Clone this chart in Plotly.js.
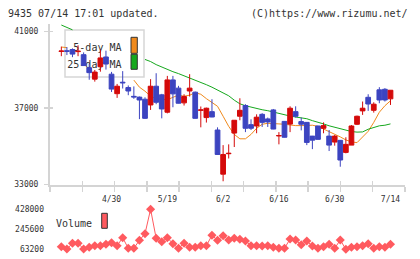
<!DOCTYPE html>
<html>
<head>
<meta charset="utf-8">
<script src="https://cdn.plot.ly/plotly-3.0.1.min.js"></script>
<style>
  html, body { margin: 0; padding: 0; background: #fff; }
  #chart { width: 420px; height: 259px; }
</style>
</head>
<body>
<div id="chart"></div>
<script>
// Daily OHLC for 9435, oldest first (60 trading days)
const openPx  = [39960,39990,40060,39950,39790,39110,38510,39160,39670,38770,
                 37750,38350,38070,37610,37570,37460,37160,38140,37690,36780,
                 38470,38040,37270,37890,37830,36880,36500,36810,35850,33540,
                 34610,35690,36570,37130,36130,36060,36670,36430,36900,35540,
                 36300,36160,36810,36290,36250,35530,36060,35940,35530,35220,
                 35310,34680,35060,36150,36850,37560,36880,37950,37980,37480];
const highPx  = [40210,40190,40120,40280,39910,39310,38990,40060,40000,38890,
                 38260,38930,38180,38130,37600,37560,38510,38820,37740,38680,
                 38680,38160,37720,38770,37860,37080,37020,37460,35990,35060,
                 35100,36360,37510,37200,36410,36670,36730,36500,36950,35740,
                 36310,37090,37090,36500,36260,35540,36070,36250,35850,35590,
                 35320,35470,36110,36600,37340,37720,37300,38090,38040,37930];
const lowPx   = [39710,39770,39660,39710,39200,38480,38380,38900,39010,37840,
                 37530,38020,37670,37480,36420,36430,36900,37200,36460,36720,
                 37040,37240,37130,37600,36450,35990,36240,36520,34560,33170,
                 34360,34960,36360,35740,35850,35680,36010,36010,35890,35100,
                 35460,35740,36500,35830,35060,34850,35350,35680,34750,35030,
                 33930,34630,35060,36110,36640,36850,36760,37250,37340,37160];
const closePx = [39980,39970,39820,39970,39220,38850,38880,39620,39300,37990,
                 38140,38320,37890,37580,37420,36460,38140,37300,36950,38470,
                 37740,37250,37600,38040,36460,36900,36990,36530,34570,34570,
                 34630,36360,36880,35940,35940,36520,36250,36270,35900,35560,
                 35470,36990,36570,36150,35200,35320,35360,36080,35060,35530,
                 34280,35100,36060,36570,36990,37210,37200,37420,37420,37930];

// Moving averages (null where the legend panel covers the line)
const ma5  = [40190,40160,null,null,null,null,null,null,null,null,
              null,null,null,38460,38090,37880,37620,37490,37460,37430,
              37560,37670,37620,37670,37800,37720,37490,37300,37090,36570,
              36040,35620,35390,35390,35620,35940,36150,36200,36200,36170,
              36150,36100,36080,36080,36100,36100,36040,35910,35750,35620,
              35490,35330,35230,35190,35470,35780,36250,36780,37120,37380];
const ma25 = [41340,41210,41090,null,null,null,null,null,null,null,
              null,null,null,null,null,39540,39430,39270,39140,39010,
              38900,38800,38690,38560,38460,38340,38220,38090,37930,37800,
              37640,37410,37220,37120,37040,36950,36910,36860,36780,36700,
              36650,36580,36530,36480,36440,36340,36270,36170,36070,35990,
              35910,35810,35770,35740,35750,35890,35990,36070,36100,36170];

// Daily volume
const volume = [86900,65900,117900,117900,65900,81400,96000,96000,108800,123400,
                96000,169000,72300,72300,145300,205500,428000,163500,132500,169000,
                114300,72300,117900,81400,81400,96000,96000,190900,145300,187200,
                148000,163500,154400,138900,96000,96000,93300,96000,81400,72300,
                72300,157100,148000,105200,138900,93300,72300,86900,108800,72300,
                148000,63200,81400,86900,96000,114300,72300,86900,81400,108800];

// Axis labels
const priceTicks = [33000, 37000, 41000];
const volTicks = [63200, 245600, 428000];
const dateLabels = ['4/30', '5/19', '6/2', '6/16', '6/30', '7/14'];
const dateLabelIdx = [9, 19, 29, 39, 49, 59];

const headerLeft = '9435 07/14 17:01 updated.';
const headerRight = '(C)https://www.rizumu.net/';

const idx = closePx.map((_, i) => i);

// page geometry helpers (pixels -> paper fractions)
const W = 420, H = 259;
const fx = p => p / W;
const fy = p => 1 - p / H;

const MONO = 'DejaVu Sans Mono, monospace';
const TXT = '#333333';
const AXIS = '#d4d4d4';
const RED = '#d40a0a';
const BLUE = '#3c44c0';
const ORANGE = '#f08a1c';
const GREEN = '#16a81e';
const VOLC = '#ff5a5f';

const xRange = [-2.03, 61.6];
const tickPos = [];
for (let k = 0; k <= 11; k++) tickPos.push(xRange[0] + k * (xRange[1] - xRange[0]) / 11);

const xDom = [fx(50), fx(405)];
const priceRange = [33000, 41400];
const priceDom = [fy(184.5), fy(184.5 - 8.4 * 19.12)];
const volDom = [fy(249.3), fy(209.3)];

const traces = [
  { type: 'scatter', mode: 'lines', x: idx, y: ma5, xaxis: 'x', yaxis: 'y',
    line: { color: ORANGE, width: 1 }, connectgaps: false, hoverinfo: 'skip' },
  { type: 'scatter', mode: 'lines', x: idx, y: ma25, xaxis: 'x', yaxis: 'y',
    line: { color: GREEN, width: 1 }, connectgaps: false, hoverinfo: 'skip' },
  { type: 'candlestick', x: idx, open: openPx, high: highPx, low: lowPx, close: closePx,
    xaxis: 'x3', yaxis: 'y3', whiskerwidth: 0,
    increasing: { line: { color: RED, width: 1 }, fillcolor: RED },
    decreasing: { line: { color: BLUE, width: 1 }, fillcolor: BLUE },
    hoverinfo: 'skip' },
  { type: 'scatter', mode: 'lines+markers', x: idx, y: volume, xaxis: 'x2', yaxis: 'y2',
    line: { color: VOLC, width: 1 }, marker: { symbol: 'diamond', size: 7, color: VOLC },
    cliponaxis: false, hoverinfo: 'skip' }
];

const layout = {
  width: W, height: H,
  margin: { l: 0, r: 0, t: 0, b: 0 },
  paper_bgcolor: '#ffffff', plot_bgcolor: 'rgba(0,0,0,0)',
  showlegend: false,
  boxgap: 0.08, boxgroupgap: 0.08,
  font: { family: MONO, size: 8, color: TXT },
  // price axes: outer tick halves + axis lines + value labels
  xaxis: { domain: xDom, range: xRange, anchor: 'y', showgrid: false, zeroline: false,
    showline: true, linecolor: AXIS, linewidth: 2, rangeslider: { visible: false },
    tickmode: 'array', tickvals: tickPos, ticks: 'outside', ticklen: 5, tickwidth: 1.5,
    tickcolor: AXIS, showticklabels: false },
  yaxis: { domain: priceDom, range: priceRange, anchor: 'x', showgrid: false, zeroline: false,
    showline: true, linecolor: AXIS, linewidth: 2,
    tickmode: 'array', tickvals: priceTicks, ticktext: priceTicks.map(String),
    ticks: 'outside', ticklen: 4, tickwidth: 1.5, tickcolor: AXIS,
    tickfont: { family: MONO, size: 8, color: TXT }, ticklabelstandoff: 4 },
  // candle axes: overlay with the inner tick halves
  xaxis3: { overlaying: 'x', anchor: 'y3', range: xRange, showgrid: false, zeroline: false,
    showline: false, rangeslider: { visible: false },
    tickmode: 'array', tickvals: tickPos, ticks: 'inside', ticklen: 4,
    tickwidth: 1.5, tickcolor: AXIS, showticklabels: false },
  yaxis3: { overlaying: 'y', anchor: 'x3', range: priceRange, showgrid: false, zeroline: false,
    showline: false, tickmode: 'array', tickvals: priceTicks, ticks: 'inside', ticklen: 3,
    tickwidth: 1.5, tickcolor: AXIS, showticklabels: false },
  // volume axes; the volume x axis carries the date labels under the price panel
  xaxis2: { domain: xDom, range: xRange, anchor: 'free', position: fy(184.5),
    showgrid: false, zeroline: false, showline: false, ticks: '',
    rangeslider: { visible: false },
    tickmode: 'array', tickvals: dateLabelIdx, ticktext: dateLabels,
    tickfont: { family: MONO, size: 8, color: TXT }, ticklabelstandoff: 8 },
  yaxis2: { domain: volDom, range: [volTicks[0], volTicks[2]], anchor: 'x2',
    showgrid: false, zeroline: false, showline: false, ticks: '',
    tickmode: 'array', tickvals: volTicks, ticktext: volTicks.map(String),
    tickfont: { family: MONO, size: 8, color: TXT }, ticklabelstandoff: 5 },
  shapes: [
    // price legend panel
    { type: 'rect', layer: 'below', xref: 'paper', yref: 'paper',
      x0: fx(65), x1: fx(144), y0: fy(77), y1: fy(30),
      fillcolor: '#ffffff', line: { color: '#d6d6d6', width: 1.5 } },
    { type: 'rect', layer: 'below', xref: 'paper', yref: 'paper',
      x0: fx(66), x1: fx(124.5), y0: fy(53), y1: fy(39),
      line: { width: 0 }, fillcolor: 'rgba(0,0,0,0)',
      label: { text: '5-day MA', textposition: 'middle right', padding: 0,
        font: { family: MONO, size: 10, color: TXT } } },
    { type: 'rect', layer: 'below', xref: 'paper', yref: 'paper',
      x0: fx(66), x1: fx(124.5), y0: fy(70), y1: fy(56),
      line: { width: 0 }, fillcolor: 'rgba(0,0,0,0)',
      label: { text: '25-day MA', textposition: 'middle right', padding: 0,
        font: { family: MONO, size: 10, color: TXT } } },
    { type: 'rect', layer: 'below', xref: 'paper', yref: 'paper',
      x0: fx(131), x1: fx(137.3), y0: fy(53.3), y1: fy(37.3),
      fillcolor: ORANGE, line: { color: '#333333', width: 1 } },
    { type: 'rect', layer: 'below', xref: 'paper', yref: 'paper',
      x0: fx(131), x1: fx(137.3), y0: fy(69.3), y1: fy(54.3),
      fillcolor: GREEN, line: { color: '#333333', width: 1 } },
    // volume legend
    { type: 'rect', layer: 'below', xref: 'paper', yref: 'paper',
      x0: fx(57), x1: fx(95), y0: fy(229), y1: fy(215),
      line: { width: 0 }, fillcolor: 'rgba(0,0,0,0)',
      label: { text: 'Volume', textposition: 'middle right', padding: 0,
        font: { family: MONO, size: 10, color: TXT } } },
    { type: 'rect', layer: 'below', xref: 'paper', yref: 'paper',
      x0: fx(101.7), x1: fx(107.3), y0: fy(228.3), y1: fy(213.3),
      fillcolor: VOLC, line: { color: '#333333', width: 1 } }
  ],
  annotations: [
    { xref: 'paper', yref: 'paper', x: fx(6), y: fy(13), xanchor: 'left', yanchor: 'middle',
      text: headerLeft, showarrow: false, font: { family: MONO, size: 10, color: TXT } },
    { xref: 'paper', yref: 'paper', x: fx(410), y: fy(13), xanchor: 'right', yanchor: 'middle',
      text: headerRight, showarrow: false, font: { family: MONO, size: 10, color: TXT } }
  ]
};

Plotly.newPlot('chart', traces, layout, { staticPlot: true, displayModeBar: false });
</script>
</body>
</html>
